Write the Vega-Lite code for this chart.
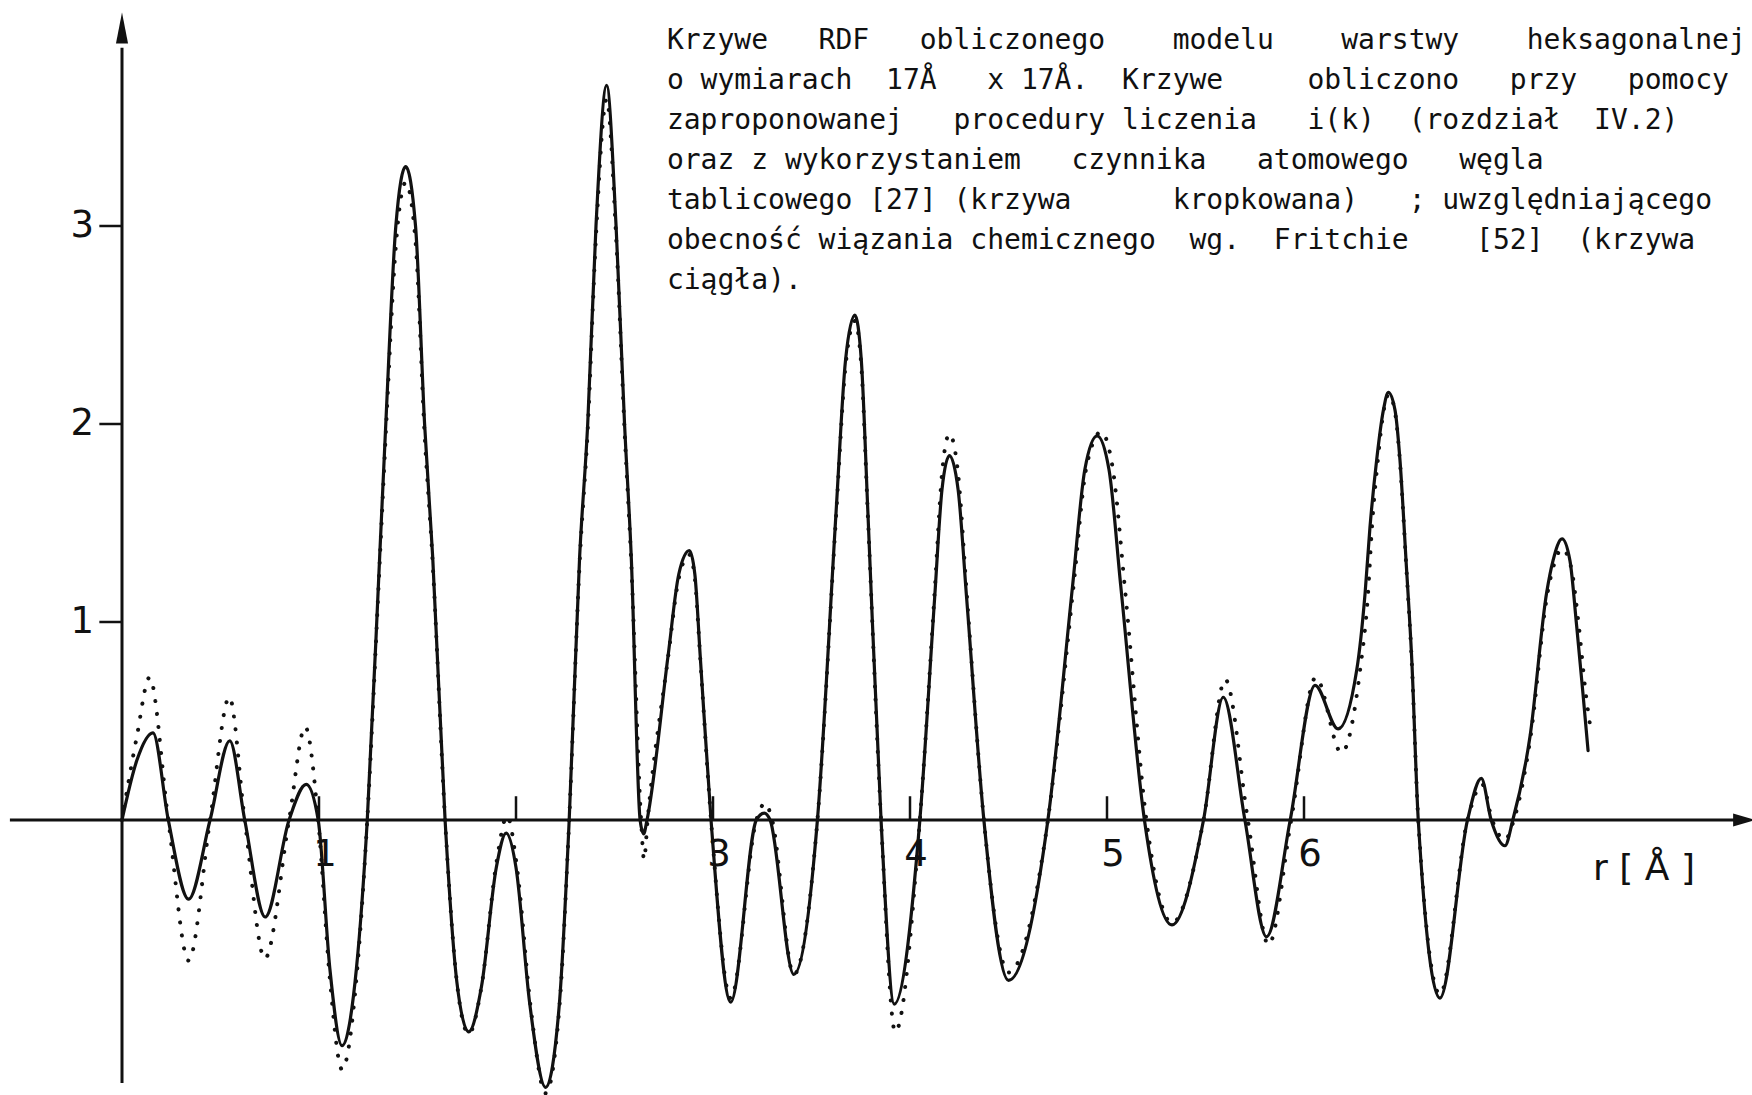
{
  "$schema": "https://vega.github.io/schema/vega-lite/v6.json",
  "width": 1752,
  "height": 1095,
  "padding": 0,
  "autosize": {"type": "none"},
  "background": "#ffffff",
  "config": {"view": {"stroke": null}},
  "datasets": {
    "solid": [
      {"r": 0, "g": 0}, {"r": 0.075, "g": 0.30}, {"r": 0.157, "g": 0.44}, {"r": 0.235, "g": 0},
      {"r": 0.338, "g": -0.40}, {"r": 0.447, "g": 0}, {"r": 0.547, "g": 0.40}, {"r": 0.623, "g": 0},
      {"r": 0.727, "g": -0.49}, {"r": 0.848, "g": 0}, {"r": 0.935, "g": 0.18}, {"r": 0.996, "g": 0},
      {"r": 1.055, "g": -0.75}, {"r": 1.117, "g": -1.14}, {"r": 1.19, "g": -0.75}, {"r": 1.245, "g": 0},
      {"r": 1.308, "g": 1.33}, {"r": 1.339, "g": 2.0}, {"r": 1.39, "g": 3.0}, {"r": 1.44, "g": 3.30},
      {"r": 1.49, "g": 3.0}, {"r": 1.536, "g": 2.0}, {"r": 1.577, "g": 1.33}, {"r": 1.64, "g": 0},
      {"r": 1.70, "g": -0.82}, {"r": 1.76, "g": -1.07}, {"r": 1.825, "g": -0.84}, {"r": 1.90, "g": -0.24},
      {"r": 1.95, "g": -0.066}, {"r": 2.00, "g": -0.24}, {"r": 2.07, "g": -0.93}, {"r": 2.15, "g": -1.35},
      {"r": 2.22, "g": -0.93}, {"r": 2.27, "g": 0}, {"r": 2.323, "g": 1.33}, {"r": 2.364, "g": 2.0},
      {"r": 2.406, "g": 3.0}, {"r": 2.46, "g": 3.71}, {"r": 2.508, "g": 3.0}, {"r": 2.551, "g": 2.0},
      {"r": 2.585, "g": 1.33}, {"r": 2.63, "g": 0}, {"r": 2.648, "g": -0.07}, {"r": 2.665, "g": 0},
      {"r": 2.772, "g": 0.83}, {"r": 2.826, "g": 1.24}, {"r": 2.88, "g": 1.36}, {"r": 2.908, "g": 1.24},
      {"r": 2.935, "g": 0.83}, {"r": 2.99, "g": 0}, {"r": 3.09, "g": -0.92}, {"r": 3.22, "g": 0},
      {"r": 3.26, "g": 0.035}, {"r": 3.29, "g": 0}, {"r": 3.41, "g": -0.78}, {"r": 3.53, "g": 0},
      {"r": 3.625, "g": 1.56}, {"r": 3.6725, "g": 2.32}, {"r": 3.72, "g": 2.55}, {"r": 3.753, "g": 2.32},
      {"r": 3.786, "g": 1.56}, {"r": 3.853, "g": 0}, {"r": 3.92, "g": -0.93}, {"r": 4.05, "g": 0},
      {"r": 4.125, "g": 1.12}, {"r": 4.1625, "g": 1.67}, {"r": 4.20, "g": 1.84}, {"r": 4.244, "g": 1.67},
      {"r": 4.2875, "g": 1.12}, {"r": 4.375, "g": 0}, {"r": 4.50, "g": -0.81}, {"r": 4.70, "g": 0},
      {"r": 4.825, "g": 1.18}, {"r": 4.8875, "g": 1.77}, {"r": 4.95, "g": 1.94}, {"r": 5.01, "g": 1.77},
      {"r": 5.07, "g": 1.18}, {"r": 5.19, "g": 0}, {"r": 5.33, "g": -0.53}, {"r": 5.49, "g": 0},
      {"r": 5.59, "g": 0.62}, {"r": 5.70, "g": 0}, {"r": 5.81, "g": -0.59}, {"r": 5.93, "g": 0},
      {"r": 6.056, "g": 0.68}, {"r": 6.173, "g": 0.46}, {"r": 6.268, "g": 0.76}, {"r": 6.31, "g": 1.145},
      {"r": 6.335, "g": 1.48}, {"r": 6.369, "g": 1.82}, {"r": 6.403, "g": 2.07}, {"r": 6.428, "g": 2.16},
      {"r": 6.462, "g": 2.07}, {"r": 6.487, "g": 1.82}, {"r": 6.518, "g": 1.31}, {"r": 6.547, "g": 0.81},
      {"r": 6.58, "g": 0}, {"r": 6.69, "g": -0.90}, {"r": 6.83, "g": 0}, {"r": 6.90, "g": 0.21},
      {"r": 6.95, "g": 0}, {"r": 7.02, "g": -0.13}, {"r": 7.06, "g": 0}, {"r": 7.147, "g": 0.42},
      {"r": 7.232, "g": 1.15}, {"r": 7.264, "g": 1.31}, {"r": 7.31, "g": 1.42}, {"r": 7.35, "g": 1.31},
      {"r": 7.384, "g": 0.98}, {"r": 7.416, "g": 0.64}, {"r": 7.442, "g": 0.35}
    ],
    "dotted": [
      {"r": 0, "g": 0}, {"r": 0.075, "g": 0.42}, {"r": 0.14, "g": 0.72}, {"r": 0.235, "g": 0},
      {"r": 0.338, "g": -0.71}, {"r": 0.447, "g": 0}, {"r": 0.545, "g": 0.62}, {"r": 0.623, "g": 0},
      {"r": 0.725, "g": -0.70}, {"r": 0.848, "g": 0}, {"r": 0.93, "g": 0.47}, {"r": 0.996, "g": 0},
      {"r": 1.055, "g": -0.80}, {"r": 1.117, "g": -1.26}, {"r": 1.19, "g": -0.80}, {"r": 1.245, "g": 0},
      {"r": 1.308, "g": 1.30}, {"r": 1.339, "g": 1.95}, {"r": 1.39, "g": 2.90}, {"r": 1.44, "g": 3.22},
      {"r": 1.49, "g": 2.92}, {"r": 1.536, "g": 1.95}, {"r": 1.577, "g": 1.30}, {"r": 1.64, "g": 0},
      {"r": 1.70, "g": -0.82}, {"r": 1.76, "g": -1.08}, {"r": 1.825, "g": -0.84}, {"r": 1.90, "g": -0.22},
      {"r": 1.955, "g": 0.02}, {"r": 2.005, "g": -0.24}, {"r": 2.075, "g": -0.95}, {"r": 2.15, "g": -1.38},
      {"r": 2.22, "g": -0.95}, {"r": 2.27, "g": 0}, {"r": 2.323, "g": 1.30}, {"r": 2.364, "g": 1.97},
      {"r": 2.406, "g": 2.95}, {"r": 2.46, "g": 3.64}, {"r": 2.508, "g": 2.95}, {"r": 2.551, "g": 1.97},
      {"r": 2.585, "g": 1.30}, {"r": 2.635, "g": 0}, {"r": 2.65, "g": -0.20}, {"r": 2.668, "g": 0},
      {"r": 2.772, "g": 0.82}, {"r": 2.826, "g": 1.22}, {"r": 2.88, "g": 1.34}, {"r": 2.908, "g": 1.22},
      {"r": 2.935, "g": 0.82}, {"r": 2.99, "g": 0}, {"r": 3.09, "g": -0.90}, {"r": 3.22, "g": 0},
      {"r": 3.265, "g": 0.085}, {"r": 3.30, "g": 0}, {"r": 3.41, "g": -0.78}, {"r": 3.53, "g": 0},
      {"r": 3.625, "g": 1.54}, {"r": 3.6725, "g": 2.29}, {"r": 3.72, "g": 2.52}, {"r": 3.753, "g": 2.29},
      {"r": 3.786, "g": 1.54}, {"r": 3.853, "g": 0}, {"r": 3.925, "g": -1.07}, {"r": 4.05, "g": 0},
      {"r": 4.125, "g": 1.15}, {"r": 4.1625, "g": 1.75}, {"r": 4.20, "g": 1.95}, {"r": 4.244, "g": 1.75},
      {"r": 4.2875, "g": 1.15}, {"r": 4.375, "g": 0}, {"r": 4.50, "g": -0.77}, {"r": 4.70, "g": 0},
      {"r": 4.83, "g": 1.18}, {"r": 4.895, "g": 1.78}, {"r": 4.97, "g": 1.96}, {"r": 5.03, "g": 1.77},
      {"r": 5.09, "g": 1.18}, {"r": 5.20, "g": 0}, {"r": 5.33, "g": -0.52}, {"r": 5.49, "g": 0},
      {"r": 5.60, "g": 0.71}, {"r": 5.715, "g": 0}, {"r": 5.82, "g": -0.63}, {"r": 5.935, "g": 0},
      {"r": 6.06, "g": 0.72}, {"r": 6.19, "g": 0.34}, {"r": 6.285, "g": 0.76}, {"r": 6.325, "g": 1.145},
      {"r": 6.345, "g": 1.48}, {"r": 6.375, "g": 1.82}, {"r": 6.405, "g": 2.07}, {"r": 6.43, "g": 2.15},
      {"r": 6.462, "g": 2.06}, {"r": 6.487, "g": 1.81}, {"r": 6.518, "g": 1.30}, {"r": 6.547, "g": 0.80},
      {"r": 6.58, "g": 0}, {"r": 6.69, "g": -0.88}, {"r": 6.83, "g": 0}, {"r": 6.905, "g": 0.18},
      {"r": 6.955, "g": 0}, {"r": 7.02, "g": -0.10}, {"r": 7.065, "g": 0}, {"r": 7.15, "g": 0.42},
      {"r": 7.235, "g": 1.14}, {"r": 7.266, "g": 1.28}, {"r": 7.31, "g": 1.37}, {"r": 7.355, "g": 1.28},
      {"r": 7.395, "g": 0.98}, {"r": 7.43, "g": 0.64}, {"r": 7.455, "g": 0.46}
    ],
    "yticks": [{"v": 1}, {"v": 2}, {"v": 3}],
    "xticks": [{"v": 1}, {"v": 2}, {"v": 3}, {"v": 4}, {"v": 5}, {"v": 6}],
    "xlabels": [{"v": 1, "t": "1"}, {"v": 3, "t": "3"}, {"v": 4, "t": "4"}, {"v": 5, "t": "5"}, {"v": 6, "t": "6"}],
    "caption": [
      {"line": 1, "text": "Krzywe\u00a0\u00a0\u00a0RDF\u00a0\u00a0\u00a0obliczonego\u00a0\u00a0\u00a0\u00a0modelu\u00a0\u00a0\u00a0\u00a0warstwy\u00a0\u00a0\u00a0\u00a0heksagonalnej"},
      {"line": 2, "text": "o\u00a0wymiarach\u00a0\u00a017Å\u00a0\u00a0\u00a0x\u00a017Å.\u00a0\u00a0Krzywe\u00a0\u00a0\u00a0\u00a0\u00a0obliczono\u00a0\u00a0\u00a0przy\u00a0\u00a0\u00a0pomocy"},
      {"line": 3, "text": "zaproponowanej\u00a0\u00a0\u00a0procedury\u00a0liczenia\u00a0\u00a0\u00a0i(k)\u00a0\u00a0(rozdział\u00a0\u00a0IV.2)"},
      {"line": 4, "text": "oraz\u00a0z\u00a0wykorzystaniem\u00a0\u00a0\u00a0czynnika\u00a0\u00a0\u00a0atomowego\u00a0\u00a0\u00a0węgla"},
      {"line": 5, "text": "tablicowego\u00a0[27]\u00a0(krzywa\u00a0\u00a0\u00a0\u00a0\u00a0\u00a0kropkowana)\u00a0\u00a0\u00a0;\u00a0uwzględniającego"},
      {"line": 6, "text": "obecność\u00a0wiązania\u00a0chemicznego\u00a0\u00a0wg.\u00a0\u00a0Fritchie\u00a0\u00a0\u00a0\u00a0[52]\u00a0\u00a0(krzywa"},
      {"line": 7, "text": "ciągła)."}
    ]
  },
  "layer": [
    {
      "layer": [
        {
          "data": {"values": [{}]},
          "mark": {"type": "rule", "strokeWidth": 3, "color": "#111111"},
          "encoding": {
            "x": {"datum": -0.569, "type": "quantitative", "scale": {"domain": [-0.6193, 8.2741], "nice": false, "zero": false}, "axis": null},
            "x2": {"datum": 8.2},
            "y": {"datum": 0, "type": "quantitative", "scale": {"domain": [-1.3889, 4.1414], "nice": false, "zero": false}, "axis": null}
          }
        },
        {
          "data": {"values": [{}]},
          "mark": {"type": "rule", "strokeWidth": 3, "color": "#111111"},
          "encoding": {
            "x": {"datum": 0, "type": "quantitative", "scale": {"domain": [-0.6193, 8.2741], "nice": false, "zero": false}, "axis": null},
            "y": {"datum": -1.328, "type": "quantitative", "scale": {"domain": [-1.3889, 4.1414], "nice": false, "zero": false}, "axis": null},
            "y2": {"datum": 3.9}
          }
        },
        {
          "data": {"values": [{}]},
          "mark": {"type": "point", "filled": true, "opacity": 1, "strokeWidth": 0, "color": "#111111", "shape": "M0,-1L0.39,1L-0.39,1Z", "size": 961},
          "encoding": {
            "x": {"datum": 0, "type": "quantitative", "scale": {"domain": [-0.6193, 8.2741], "nice": false, "zero": false}, "axis": null},
            "y": {"datum": 4.0, "type": "quantitative", "scale": {"domain": [-1.3889, 4.1414], "nice": false, "zero": false}, "axis": null}
          }
        },
        {
          "data": {"values": [{}]},
          "mark": {"type": "point", "filled": true, "opacity": 1, "strokeWidth": 0, "color": "#111111", "shape": "M1,0L-1,0.6L-1,-0.6Z", "size": 484},
          "encoding": {
            "x": {"datum": 8.234, "type": "quantitative", "scale": {"domain": [-0.6193, 8.2741], "nice": false, "zero": false}, "axis": null},
            "y": {"datum": 0, "type": "quantitative", "scale": {"domain": [-1.3889, 4.1414], "nice": false, "zero": false}, "axis": null}
          }
        },
        {
          "data": {"name": "yticks"},
          "mark": {"type": "rule", "strokeWidth": 2.5, "color": "#111111"},
          "encoding": {
            "x": {"datum": -0.115, "type": "quantitative", "scale": {"domain": [-0.6193, 8.2741], "nice": false, "zero": false}, "axis": null},
            "x2": {"datum": 0},
            "y": {"field": "v", "type": "quantitative", "scale": {"domain": [-1.3889, 4.1414], "nice": false, "zero": false}, "axis": null}
          }
        },
        {
          "data": {"name": "yticks"},
          "mark": {"type": "text", "align": "right", "baseline": "middle", "font": "DejaVu Sans", "fontSize": 37, "color": "#111111"},
          "encoding": {
            "x": {"datum": -0.142, "type": "quantitative", "scale": {"domain": [-0.6193, 8.2741], "nice": false, "zero": false}, "axis": null},
            "y": {"field": "v", "type": "quantitative", "scale": {"domain": [-1.3889, 4.1414], "nice": false, "zero": false}, "axis": null},
            "text": {"field": "v", "type": "quantitative"}
          }
        },
        {
          "data": {"name": "xticks"},
          "mark": {"type": "rule", "strokeWidth": 2.5, "color": "#111111"},
          "encoding": {
            "x": {"field": "v", "type": "quantitative", "scale": {"domain": [-0.6193, 8.2741], "nice": false, "zero": false}, "axis": null},
            "y": {"datum": 0, "type": "quantitative", "scale": {"domain": [-1.3889, 4.1414], "nice": false, "zero": false}, "axis": null},
            "y2": {"datum": 0.12}
          }
        },
        {
          "data": {"name": "xlabels"},
          "mark": {"type": "text", "align": "center", "baseline": "middle", "dx": 6, "font": "DejaVu Sans", "fontSize": 37, "color": "#111111"},
          "encoding": {
            "x": {"field": "v", "type": "quantitative", "scale": {"domain": [-0.6193, 8.2741], "nice": false, "zero": false}, "axis": null},
            "y": {"datum": -0.177, "type": "quantitative", "scale": {"domain": [-1.3889, 4.1414], "nice": false, "zero": false}, "axis": null},
            "text": {"field": "t", "type": "nominal"}
          }
        },
        {
          "data": {"values": [{"title": "r [ Å ]"}]},
          "mark": {"type": "text", "align": "center", "baseline": "alphabetic", "font": "DejaVu Sans", "fontSize": 36, "color": "#111111"},
          "encoding": {
            "x": {"datum": 7.726, "type": "quantitative", "scale": {"domain": [-0.6193, 8.2741], "nice": false, "zero": false}, "axis": null},
            "y": {"datum": -0.303, "type": "quantitative", "scale": {"domain": [-1.3889, 4.1414], "nice": false, "zero": false}, "axis": null},
            "text": {"field": "title", "type": "nominal"}
          }
        },
        {
          "data": {"name": "dotted"},
          "mark": {"type": "line", "interpolate": "monotone", "color": "#111111", "strokeWidth": 4, "strokeCap": "round", "strokeDash": [0.1, 13]},
          "encoding": {
            "x": {"field": "r", "type": "quantitative", "scale": {"domain": [-0.6193, 8.2741], "nice": false, "zero": false}, "axis": null},
            "y": {"field": "g", "type": "quantitative", "scale": {"domain": [-1.3889, 4.1414], "nice": false, "zero": false}, "axis": null}
          }
        },
        {
          "data": {"name": "solid"},
          "mark": {"type": "line", "interpolate": "monotone", "color": "#111111", "strokeWidth": 3.2, "strokeCap": "round", "strokeJoin": "round"},
          "encoding": {
            "x": {"field": "r", "type": "quantitative", "scale": {"domain": [-0.6193, 8.2741], "nice": false, "zero": false}, "axis": null},
            "y": {"field": "g", "type": "quantitative", "scale": {"domain": [-1.3889, 4.1414], "nice": false, "zero": false}, "axis": null}
          }
        }
      ]
    },
    {
      "data": {"name": "caption"},
      "mark": {"type": "text", "align": "left", "baseline": "alphabetic", "font": "DejaVu Sans Mono", "fontSize": 28, "color": "#111111"},
      "encoding": {
        "x": {"datum": 2.766, "type": "quantitative", "scale": {"domain": [-0.6193, 8.2741], "nice": false, "zero": false}, "axis": null},
        "y": {"field": "line", "type": "quantitative", "scale": {"domain": [-0.225, 27.15], "range": [0, 1095], "nice": false, "zero": false}, "axis": null},
        "text": {"field": "text", "type": "nominal"}
      }
    }
  ],
  "resolve": {"scale": {"y": "independent"}}
}
